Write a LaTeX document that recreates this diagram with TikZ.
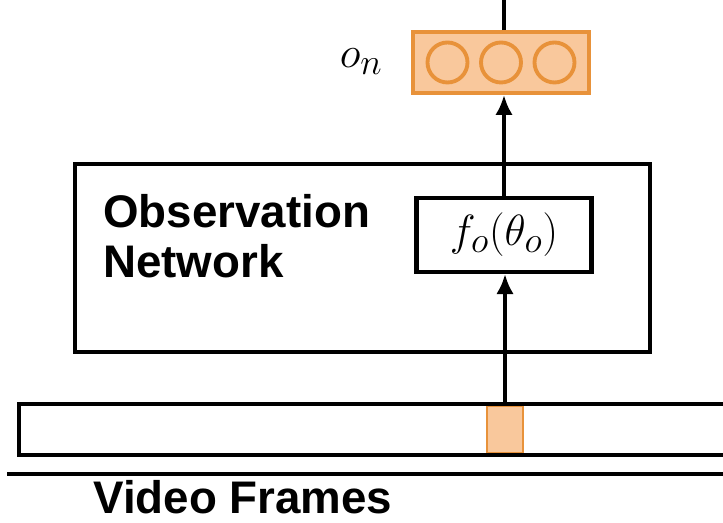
\documentclass[tikz,border=0pt]{standalone}
\usepackage{fontspec}
\setsansfont{Liberation Sans}
\usetikzlibrary{arrows.meta, positioning, calc}
\definecolor{oorange}{HTML}{E8923A}
\definecolor{ofill}{HTML}{F9C89C}
\tikzset{
  >=Latex,
  box/.style={draw=black, line width=2.3pt, fill=white, inner sep=0pt},
  obsvec/.style={
    draw=oorange, fill=ofill, line width=2.2pt,
    minimum width=3.52cm, minimum height=1.22cm
  },
  unit/.style={circle, draw=oorange, line width=2.2pt, minimum size=0.8cm, inner sep=0pt},
  arr/.style={-{Latex[length=4mm, width=3.5mm]}, line width=2.3pt},
  lab/.style={font=\fontsize{26}{28.5}\selectfont\sffamily\bfseries, inner sep=0pt, align=left}
}

\begin{document}
\begin{tikzpicture}
  \useasboundingbox (0,0) rectangle (14.46,10.46);
  % observation network block
  \node[box, minimum width=11.5cm, minimum height=3.76cm] (obs) at (7.25,5.30) {};
  \node[lab, anchor=north west] (obslab) at (2.06,6.58) {Observation\\Network};
  \node[box, minimum width=3.5cm, minimum height=1.48cm, font=\fontsize{29}{34}\selectfont]
    (fo) at (10.08,5.76) {$f_o(\theta_o)$};
  % output vector o_n
  \node[obsvec] (on) at (10.02,9.21) {};
  \foreach \i/\dx in {1/-1.07, 2/0, 3/1.07}
    \node[unit] (u\i) at ($(on.center)+(\dx,0)$) {};
  \node[anchor=base east, inner sep=0pt, font=\fontsize{28}{32}\selectfont] (onlab) at (7.66,9.1) {$o_n$};
  \coordinate (top) at (10.08,10.6);
  % frame strip with the current patch
  \node[draw=oorange, fill=ofill, line width=1.2pt, minimum width=0.72cm, minimum height=0.96cm]
    (patch) at (10.1,1.87) {};
  \node[box, fill=none, minimum width=14.6cm, minimum height=1.02cm, anchor=west] (strip) at (0.34,1.87) {};
  \coordinate (ul) at (0.14,0.98);
  \coordinate (ur) at (14.6,0.98);
  \draw[line width=2.3pt] (ul) -- (ur);
  \node[lab, anchor=base west] (vf) at (1.86,0.18) {Video Frames};
  % connectors
  \draw[arr] (patch.north) -- (patch.north |- fo.south);
  \draw[arr] (fo.north) -- (fo.north |- on.south);
  \draw[line width=2.3pt] (fo.north |- on.north) -- (top);
\end{tikzpicture}
\end{document}
